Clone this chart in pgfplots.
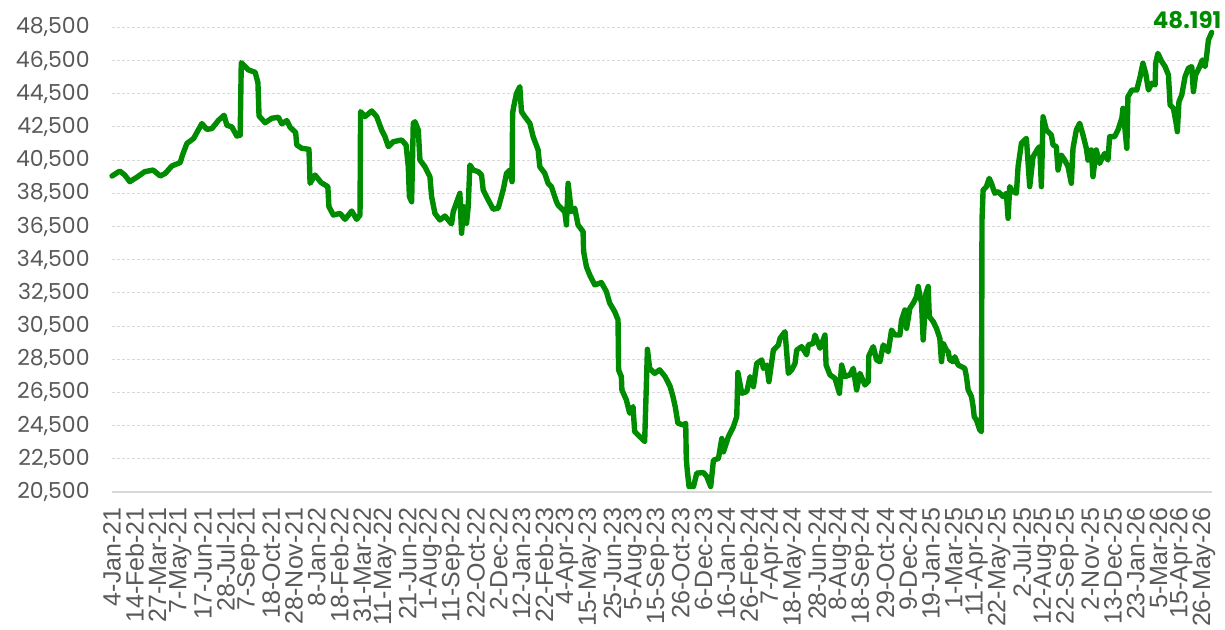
\documentclass[border=0pt]{standalone}
\usepackage{pgfplots}
\pgfplotsset{compat=1.18}
\usepackage{fontspec}
\setmainfont{Liberation Sans}
\newfontfamily\pop{Poppins}
\definecolor{lgreen}{RGB}{0,140,0}
\definecolor{tgray}{RGB}{89,89,89}
\definecolor{ggray}{RGB}{217,217,217}
\begin{document}
\begin{tikzpicture}
\useasboundingbox (-56pt,-68.5pt) rectangle (556.5pt,246pt);
\begin{axis}[
  at={(0,0)}, anchor=south west,
  scale only axis, width=549.85pt, height=232.35pt,
  xmin=0, xmax=1982, ymin=20500, ymax=48500,
  clip=false,
  axis x line*=bottom, axis y line*=left,
  x axis line style={-, draw=ggray, line width=1pt},
  y axis line style={draw=none},
  major tick length=0pt,
  ymajorgrids, major grid style={draw=ggray, line width=0.5pt, dash pattern=on 1.5pt off 1pt},
  ytick={20500,22500,...,48500},
  scaled y ticks=false,
  yticklabel={\pgfmathprintnumber[fixed,precision=0,1000 sep={,}]{\tick}},
  xtick={0,41,...,1968},
  xticklabels={4-Jan-21,14-Feb-21,27-Mar-21,7-May-21,17-Jun-21,28-Jul-21,7-Sep-21,18-Oct-21,28-Nov-21,8-Jan-22,18-Feb-22,31-Mar-22,11-May-22,21-Jun-22,1-Aug-22,11-Sep-22,22-Oct-22,2-Dec-22,12-Jan-23,22-Feb-23,4-Apr-23,15-May-23,25-Jun-23,5-Aug-23,15-Sep-23,26-Oct-23,6-Dec-23,16-Jan-24,26-Feb-24,7-Apr-24,18-May-24,28-Jun-24,8-Aug-24,18-Sep-24,29-Oct-24,9-Dec-24,19-Jan-25,1-Mar-25,11-Apr-25,22-May-25,2-Jul-25,12-Aug-25,22-Sep-25,2-Nov-25,13-Dec-25,23-Jan-26,5-Mar-26,15-Apr-26,26-May-26},
  xticklabel shift=7.5pt,
  yticklabel shift=11pt,
  xticklabel style={rotate=90, anchor=east, inner sep=0pt, font=\fontsize{12.5}{14}\selectfont, text=tgray},
  yticklabel style={anchor=east, inner sep=0pt, font=\pop\fontsize{11}{13}\selectfont, text=tgray},
  /pgf/number format/.cd, 1000 sep={,}, assume math mode=true,
]
\addplot[lgreen, line width=2.7pt, line join=round, line cap=round] coordinates {
(0,39540)(14,39840)(23,39600)(32,39200)(45,39470)(59,39800)(74,39900)(87,39540)(96,39700)(108,40150)
(123,40350)(127,40800)(135,41500)(147,41800)(162,42700)(171,42350)(180,42400)(192,42900)(202,43200)(207,42600)
(216,42500)(225,41950)(231,42000)(233,46370)(246,45930)(258,45790)(263,45160)(265,43160)(276,42750)(288,43020)
(300,43080)(306,42680)(315,42880)(321,42480)(331,42160)(333,41410)(342,41210)(355,41150)(357,39100)(366,39600)
(377,39140)(389,38900)(391,37690)(399,37190)(411,37290)(420,36930)(432,37430)(441,36930)(447,37190)(448,43420)
(456,43120)(468,43460)(477,43120)(486,42310)(492,41910)(498,41310)(507,41610)(522,41710)(530,41410)(534,40100)
(536,38300)(540,37990)(543,42720)(546,42810)(552,42310)(555,40500)(564,40100)(573,39500)(576,38300)(582,37290)
(591,36890)(600,37130)(612,36650)(615,37390)(627,38500)(630,36090)(634,37690)(639,36690)(642,37690)(645,40200)
(651,39900)(660,39800)(666,39600)(669,38700)(678,38100)(687,37540)(696,37600)(705,38700)(711,39700)(717,39900)
(721,39200)(722,43320)(724,43720)(729,44520)(735,44920)(738,43420)(744,43120)(753,42720)(759,41910)(768,41110)
(771,40100)(780,39700)(786,39100)(792,38900)(801,37990)(804,37790)(816,37390)(819,36590)(822,39100)(828,37390)
(834,37600)(840,36590)(849,36190)(850,34990)(855,34080)(861,33580)(870,32980)(882,33120)(891,32580)(897,31880)
(906,31370)(912,30870)(913,27860)(918,27450)(919,26650)(927,26050)(933,25250)(939,25650)(942,24140)(951,23840)
(960,23540)(965,29100)(969,27950)(978,27650)(987,27860)(997,27450)(1006,26850)(1011,26250)(1015,25650)(1020,24640)
(1030,24540)(1034,24640)(1035,22530)(1037,21730)(1040,20830)(1048,20830)(1054,21640)(1066,21670)(1072,21430)(1079,20830)
(1084,22420)(1093,22520)(1099,23720)(1102,22920)(1111,23840)(1120,24440)(1126,25040)(1128,27700)(1135,26450)(1144,26550)
(1150,27450)(1156,26850)(1162,28250)(1171,28460)(1174,27950)(1180,28150)(1184,27150)(1192,29050)(1201,29360)(1204,29760)
(1213,30160)(1219,27650)(1225,27860)(1231,28250)(1234,29050)(1243,29260)(1252,28760)(1255,29360)(1264,29460)(1267,29960)
(1276,29160)(1285,29960)(1287,28150)(1294,27560)(1303,27350)(1311,26450)(1315,28150)(1321,27450)(1330,27560)(1336,27950)
(1342,26650)(1348,27650)(1357,26950)(1363,27150)(1364,28700)(1372,29260)(1378,28460)(1384,28350)(1390,29360)(1399,28950)
(1405,30260)(1411,29960)(1420,29960)(1423,30870)(1429,31470)(1432,30360)(1438,31570)(1444,31880)(1450,32280)(1453,32880)
(1459,31880)(1462,29660)(1467,32480)(1471,32880)(1473,31070)(1480,30770)(1486,30360)(1492,29760)(1495,28350)(1498,29460)
(1504,29050)(1507,28950)(1510,28460)(1516,28350)(1519,28650)(1525,28150)(1531,28050)(1537,27950)(1540,27450)(1543,26650)
(1549,26250)(1552,25650)(1554,25040)(1558,24840)(1564,24240)(1567,24140)(1568,36890)(1570,38700)(1576,38900)(1581,39400)
(1585,39100)(1591,38500)(1597,38600)(1606,38300)(1612,38500)(1615,36990)(1618,38900)(1624,38600)(1630,38500)(1633,40100)
(1639,41510)(1648,41810)(1654,38900)(1660,40700)(1669,41210)(1672,41310)(1675,38900)(1678,43110)(1684,42310)(1693,42010)
(1696,41410)(1702,41310)(1705,39900)(1711,40800)(1717,40500)(1723,40100)(1729,39100)(1732,41210)(1738,42310)(1744,42720)
(1750,42010)(1756,41210)(1759,40500)(1765,41110)(1768,39500)(1774,41110)(1780,40300)(1789,40900)(1795,40500)(1798,41910)
(1807,41910)(1813,42310)(1820,43020)(1822,43620)(1829,41210)(1831,44320)(1838,44720)(1847,44720)(1853,45530)(1858,46330)
(1863,45730)(1868,44720)(1874,45130)(1880,45030)(1881,46330)(1885,46930)(1892,46430)(1898,46130)(1904,45630)(1907,43820)
(1913,43620)(1919,42510)(1920,42210)(1923,44020)(1928,44420)(1934,45530)(1940,46030)(1946,46130)(1949,44620)(1953,45630)
(1959,46030)(1965,46530)(1970,46130)(1973,46830)(1976,47730)(1982,48191)
};
\node[anchor=base east, inner sep=0pt, xshift=5pt, yshift=2pt, text=lgreen, font=\pop\bfseries\fontsize{11.5}{13}\selectfont] at (axis cs:1982,48191) {48.191};
\end{axis}
\end{tikzpicture}
\end{document}
